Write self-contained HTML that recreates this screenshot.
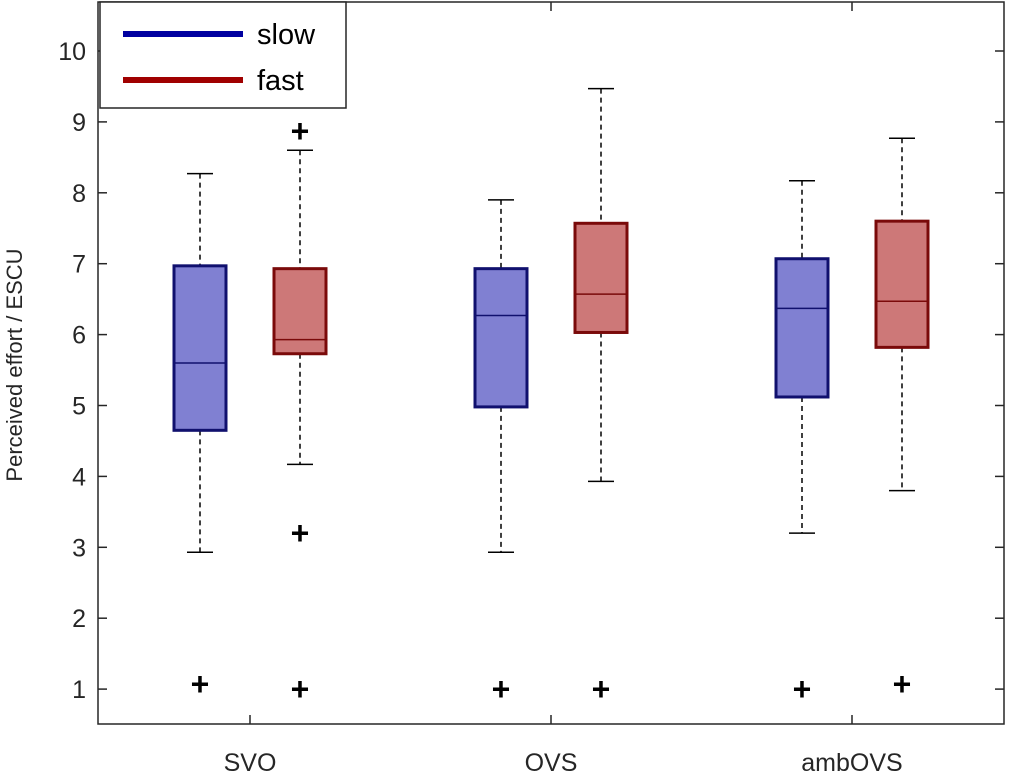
<!DOCTYPE html>
<html><head><meta charset="utf-8"><style>
body{margin:0;background:#fff;}
svg{display:block;font-family:"Liberation Sans",sans-serif;}
</style></head><body>
<svg id="chart" width="1009" height="778"></svg>
<script>
const categories=["SVO","OVS","ambOVS"];
const seriesNames=["slow","fast"];
const lowWhisker=[[2.93,4.17],[2.93,3.93],[3.2,3.8]];
const q1=[[4.65,5.73],[4.98,6.03],[5.12,5.82]];
const median=[[5.6,5.93],[6.27,6.57],[6.37,6.47]];
const q3=[[6.97,6.93],[6.93,7.57],[7.07,7.6]];
const highWhisker=[[8.27,8.6],[7.9,9.47],[8.17,8.77]];
const outliers=[[[1.07],[8.87,3.2,1.0]],[[1.0],[1.0]],[[1.0],[1.07]]];
const yTicks=[1,2,3,4,5,6,7,8,9,10];

const NS="http://www.w3.org/2000/svg";
const svg=document.getElementById('chart');
function el(t,a,p){const e=document.createElementNS(NS,t);for(const k in a)e.setAttribute(k,a[k]);(p||svg).appendChild(e);return e;}
const X0=98,X1=1004,Y0=2,Y1=724;
function y(v){return 760-v*70.9;}
function xc(i){return 250+i*301;}
const off=[-50,50];
const fills=["#8080d2","#cd7878"],edges=["#10106e","#7a0a0a"];

for(const t of yTicks){
  const tk=el('line',{x1:X0,x2:X0+9,y1:y(t),y2:y(t),stroke:'#262626','stroke-width':1.5});
  
  
  const tk2=el('line',{x1:X1-9,x2:X1,y1:y(t),y2:y(t),stroke:'#262626','stroke-width':1.5});
  
  
  const tl=el('text',{x:86,y:y(t)+9,'text-anchor':'end','font-size':25,fill:'#262626'});
  tl.textContent=t;
  
  
}
categories.forEach((c,i)=>{
  const tk=el('line',{x1:xc(i),x2:xc(i),y1:Y1,y2:Y1-9,stroke:'#262626','stroke-width':1.5});
  
  
  const tk2=el('line',{x1:xc(i),x2:xc(i),y1:Y0,y2:Y0+9,stroke:'#262626','stroke-width':1.5});
  
  
  const tl=el('text',{x:xc(i),y:771,'text-anchor':'middle','font-size':25,fill:'#262626'});
  tl.textContent=c;
  
  
  for(let s=0;s<2;s++){
    const cx=xc(i)+off[s],hw=26;
    const g=el('g',{});
    
    
    el('line',{x1:cx,x2:cx,y1:y(highWhisker[i][s]),y2:y(q3[i][s]),stroke:'#000','stroke-width':1.5,'stroke-dasharray':'5,4'},g);
    el('line',{x1:cx,x2:cx,y1:y(q1[i][s]),y2:y(lowWhisker[i][s]),stroke:'#000','stroke-width':1.5,'stroke-dasharray':'5,4'},g);
    el('line',{x1:cx-13,x2:cx+13,y1:y(highWhisker[i][s]),y2:y(highWhisker[i][s]),stroke:'#000','stroke-width':1.5},g);
    el('line',{x1:cx-13,x2:cx+13,y1:y(lowWhisker[i][s]),y2:y(lowWhisker[i][s]),stroke:'#000','stroke-width':1.5},g);
    el('rect',{x:cx-hw,y:y(q3[i][s]),width:2*hw,height:y(q1[i][s])-y(q3[i][s]),fill:fills[s],stroke:edges[s],'stroke-width':3},g);
    el('line',{x1:cx-hw,x2:cx+hw,y1:y(median[i][s]),y2:y(median[i][s]),stroke:edges[s],'stroke-width':1.5},g);
    for(const o of outliers[i][s]){
      const p=el('text',{x:cx,y:y(o)+11,'text-anchor':'middle','font-size':32,'font-weight':'bold',fill:'#000'});
      p.textContent='+';
      
      
    }
  }
});
const frame=el('rect',{x:X0,y:Y0,width:X1-X0,height:Y1-Y0,fill:'none',stroke:'#262626','stroke-width':1.5});


const yl=el('text',{x:0,y:0,transform:'translate(22,365) rotate(-90)','text-anchor':'middle','font-size':22,fill:'#262626'});
yl.textContent='Perceived effort / ESCU';


const lg=el('g',{});


el('rect',{x:100,y:2,width:246,height:106,fill:'#fff',stroke:'#262626','stroke-width':1.5},lg);
const lc=["#0000a0","#a00000"];
seriesNames.forEach((n,s)=>{
  const ly=34+s*46;
  const e=el('g',{},lg);
  
  
  el('line',{x1:123,x2:243,y1:ly,y2:ly,stroke:lc[s],'stroke-width':6},e);
  const t=el('text',{x:257,y:ly+10,'font-size':29,fill:'#000'},e);
  t.textContent=n;
});
</script>
</body></html>
